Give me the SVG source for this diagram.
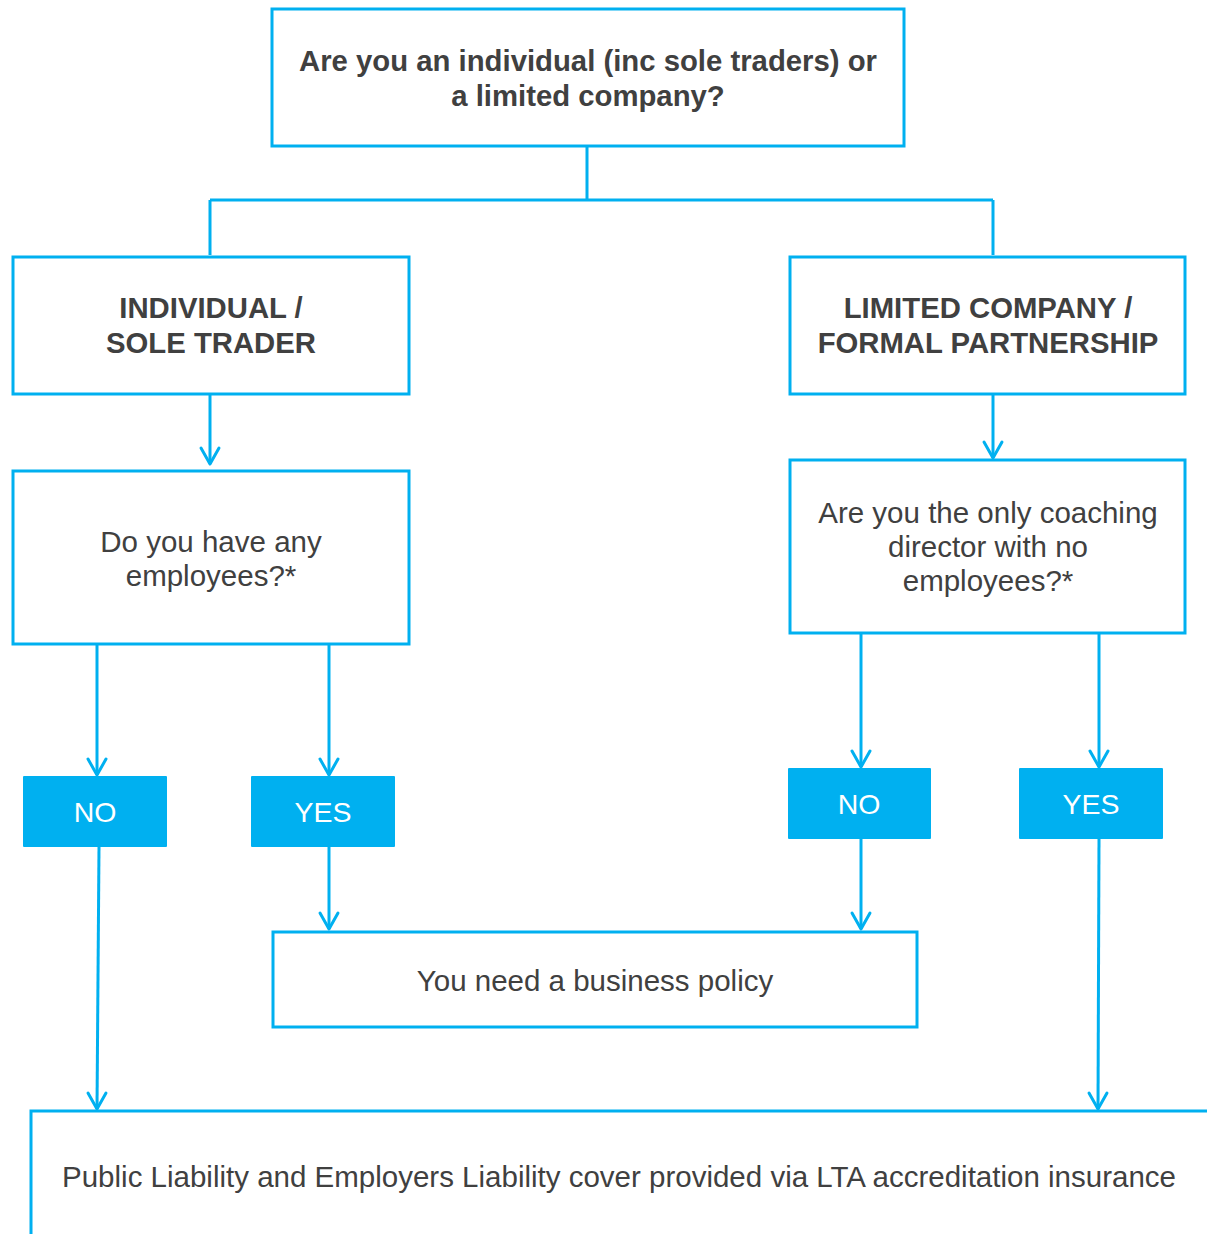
<svg xmlns="http://www.w3.org/2000/svg" width="1207" height="1234" viewBox="0 0 1207 1234">
<style>
.box{fill:#fff;stroke:#00b0f0;stroke-width:3}
.ans{fill:#00b0f0;stroke:none}
.line{fill:none;stroke:#00b0f0;stroke-width:3}
.head{fill:none;stroke:#00b0f0;stroke-width:3;stroke-linecap:round;stroke-linejoin:round}
.b{font-family:"Liberation Sans",Arial,sans-serif;font-weight:bold;font-size:29.3px;fill:#404040;text-anchor:middle}
.r{font-family:"Liberation Sans",Arial,sans-serif;font-size:29.5px;fill:#404040;text-anchor:middle}
.w{font-family:"Liberation Sans",Arial,sans-serif;font-size:28.5px;fill:#fff;text-anchor:middle}
</style>
<rect width="1207" height="1234" fill="#fff"/>
<g id="connectors">
<path class="line" d="M587,147 V200 M210,200 H993 M210,200 V255 M993,200 V255"/>
<path class="line" d="M210,395 V464"/><path class="head" d="M201,448 L210,464 L219,448"/>
<path class="line" d="M993,395 V458"/><path class="head" d="M984,442 L993,458 L1002,442"/>
<path class="line" d="M97,645 V775"/><path class="head" d="M88,759 L97,775 L106,759"/>
<path class="line" d="M329,645 V775"/><path class="head" d="M320,759 L329,775 L338,759"/>
<path class="line" d="M861,634 V767"/><path class="head" d="M852,751 L861,767 L870,751"/>
<path class="line" d="M1099,634 V767"/><path class="head" d="M1090,751 L1099,767 L1108,751"/>
<path class="line" d="M99,847 L97,1109"/><path class="head" d="M88,1093 L97,1109 L106,1093"/>
<path class="line" d="M329,847 V929"/><path class="head" d="M320,913 L329,929 L338,913"/>
<path class="line" d="M861,839 V929"/><path class="head" d="M852,913 L861,929 L870,913"/>
<path class="line" d="M1099,839 L1098,1109"/><path class="head" d="M1089,1093 L1098,1109 L1107,1093"/>
</g>
<g id="start">
<rect class="box" x="272" y="9" width="632" height="137"/>
<text class="b" x="588" y="71">Are you an individual (inc sole traders) or</text>
<text class="b" x="588" y="106">a limited company?</text>
</g>
<g id="individual">
<rect class="box" x="13" y="257" width="396" height="137"/>
<text class="b" x="211" y="318">INDIVIDUAL /</text>
<text class="b" x="211" y="353">SOLE TRADER</text>
</g>
<g id="company">
<rect class="box" x="790" y="257" width="395" height="137"/>
<text class="b" x="988" y="318">LIMITED COMPANY /</text>
<text class="b" x="988" y="353">FORMAL PARTNERSHIP</text>
</g>
<g id="q-employees">
<rect class="box" x="13" y="471" width="396" height="173"/>
<text class="r" x="211" y="552">Do you have any</text>
<text class="r" x="211" y="586">employees?*</text>
</g>
<g id="q-director">
<rect class="box" x="790" y="460" width="395" height="173"/>
<text class="r" x="988" y="523">Are you the only coaching</text>
<text class="r" x="988" y="557">director with no</text>
<text class="r" x="988" y="591">employees?*</text>
</g>
<g id="no-left">
<rect class="ans" x="23" y="776" width="144" height="71" rx="1"/>
<text class="w" x="95" y="822">NO</text>
</g>
<g id="yes-left">
<rect class="ans" x="251" y="776" width="144" height="71" rx="1"/>
<text class="w" x="323" y="822">YES</text>
</g>
<g id="no-right">
<rect class="ans" x="788" y="768" width="143" height="71" rx="1"/>
<text class="w" x="859" y="814">NO</text>
</g>
<g id="yes-right">
<rect class="ans" x="1019" y="768" width="144" height="71" rx="1"/>
<text class="w" x="1091" y="814">YES</text>
</g>
<g id="business">
<rect class="box" x="273" y="932" width="644" height="95"/>
<text class="r" x="595" y="991">You need a business policy</text>
</g>
<g id="cover">
<rect class="box" x="31" y="1111" width="1190" height="140"/>
<text class="r" x="619" y="1187">Public Liability and Employers Liability cover provided via LTA accreditation insurance</text>
</g>
</svg>
